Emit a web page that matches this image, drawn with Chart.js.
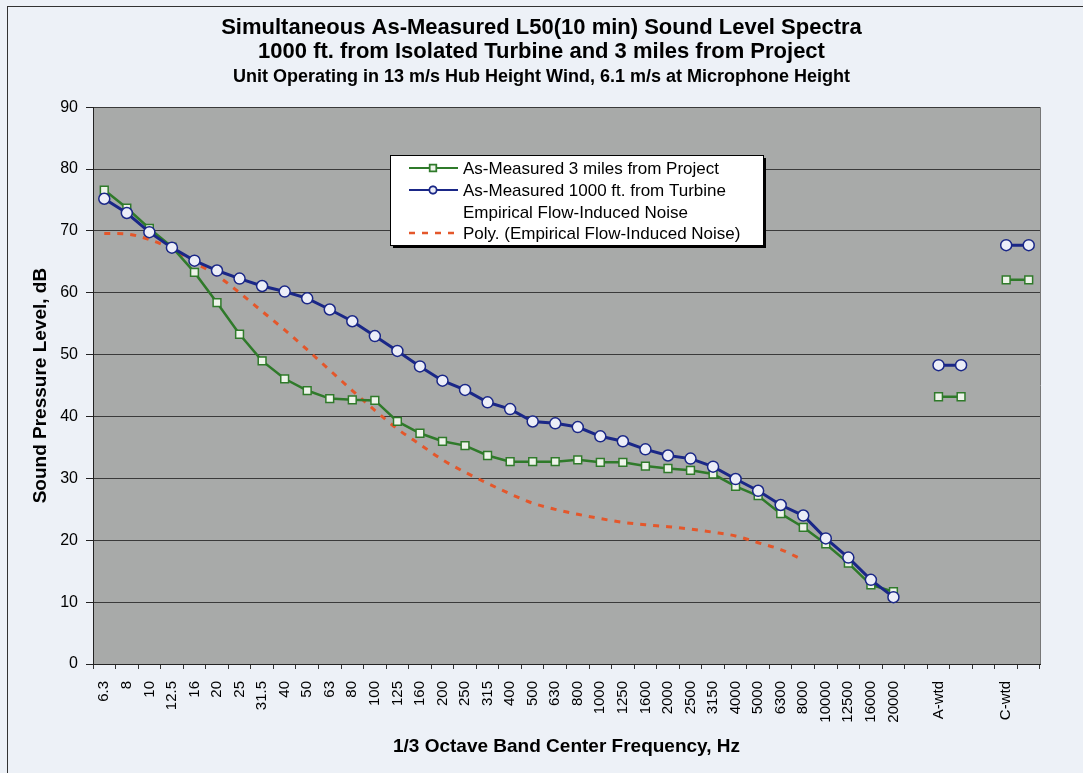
<!DOCTYPE html>
<html>
<head>
<meta charset="utf-8">
<title>L50 Sound Level Spectra</title>
<script src="https://cdn.jsdelivr.net/npm/chart.js@4.4.1/dist/chart.umd.min.js"></script>
<style>
  html, body { margin: 0; padding: 0; background: #edf1f7; }
  #wrap { position: relative; width: 1083px; height: 773px; }
</style>
</head>
<body>
<div id="wrap"><canvas id="spectra" width="1083" height="773"></canvas></div>
<script>
// 1/3 octave bands, then the weighted totals (blank slots keep the Excel spacing)
const bandLabels = ['6.3', '8', '10', '12.5', '16', '20', '25', '31.5', '40', '50', '63', '80',
    '100', '125', '160', '200', '250', '315', '400', '500', '630', '800', '1000', '1250',
    '1600', '2000', '2500', '3150', '4000', '5000', '6300', '8000', '10000', '12500', '16000', '20000',
    '', 'A-wtd', '', '', 'C-wtd', ''];

const yTicks = [0, 10, 20, 30, 40, 50, 60, 70, 80, 90];

// As-Measured 3 miles from Project
const project3mi = [76.6, 73.7, 70.4, 67.4, 63.3, 58.4, 53.3, 49.0, 46.1, 44.2, 42.9, 42.7,
    42.6, 39.2, 37.3, 36.0, 35.3, 33.7, 32.7, 32.7, 32.7, 33.0, 32.6, 32.6,
    32.0, 31.6, 31.3, 30.7, 28.7, 27.2, 24.3, 22.1, 19.4, 16.3, 12.8, 11.7];
const project3miWtd = [43.2, 62.1]; // A-wtd, C-wtd

// As-Measured 1000 ft. from Turbine
const turbine1000ft = [75.2, 72.9, 69.8, 67.3, 65.2, 63.6, 62.3, 61.1, 60.2, 59.1, 57.3, 55.4,
    53.0, 50.6, 48.1, 45.8, 44.3, 42.3, 41.2, 39.2, 38.9, 38.3, 36.8, 36.0,
    34.7, 33.7, 33.2, 31.9, 29.9, 28.0, 25.7, 24.0, 20.3, 17.2, 13.6, 10.8];
const turbine1000ftWtd = [48.3, 67.7];

// Poly. (Empirical Flow-Induced Noise), 6.3 Hz to 8000 Hz
const flowPoly = [69.6, 69.5, 68.6, 67.1, 64.9, 62.8, 60.0, 57.0, 54.0, 50.8, 47.5, 44.2,
    41.0, 38.0, 35.5, 33.0, 31.0, 29.2, 27.5, 26.0, 25.0, 24.2, 23.5, 22.9,
    22.5, 22.2, 21.8, 21.3, 20.7, 19.6, 18.5, 16.8];

// spread band values and weighted pairs over the category slots
function toSlots(bands, wtd) {
    const out = bandLabels.map(() => null);
    bands.forEach((v, i) => { out[i] = v; });
    if (wtd) {
        const a = bandLabels.indexOf('A-wtd');
        const c = bandLabels.indexOf('C-wtd');
        out[a] = out[a + 1] = wtd[0];
        out[c] = out[c + 1] = wtd[1];
    }
    return out;
}

Chart.defaults.font.family = "Arial, 'Liberation Sans', sans-serif";
Chart.defaults.color = '#000';

const GREEN = '#2f7a2a';
const BLUE = '#1a2787';
const RED = '#e4572b';

// page colour, outer frame and grey plot area
const backdrop = {
    id: 'backdrop',
    beforeDraw(chart) {
        const { ctx, chartArea: a } = chart;
        ctx.save();
        ctx.fillStyle = '#edf1f7';
        ctx.fillRect(0, 0, chart.width, chart.height);
        ctx.strokeStyle = '#333';
        ctx.lineWidth = 1;
        ctx.strokeRect(7.5, 6.5, chart.width + 10, chart.height + 10);
        ctx.fillStyle = '#a8aaa9';
        ctx.fillRect(a.left, a.top, a.right - a.left, a.bottom - a.top);
        ctx.restore();
    },
    afterDatasetsDraw(chart) {
        const { ctx, chartArea: a } = chart;
        ctx.save();
        ctx.strokeStyle = '#777';
        ctx.lineWidth = 1;
        ctx.beginPath();
        ctx.moveTo(a.right + 0.5, a.top);
        ctx.lineTo(a.right + 0.5, a.bottom);
        ctx.stroke();
        ctx.restore();
    }
};

// boxed legend floating inside the plot, like the Excel one
const boxLegend = {
    id: 'boxLegend',
    afterDraw(chart) {
        const ctx = chart.ctx;
        const x = 390, y = 155, w = 373, h = 90;
        ctx.save();
        ctx.fillStyle = '#000';
        ctx.fillRect(x + 3, y + 3, w, h);
        ctx.fillStyle = '#fff';
        ctx.fillRect(x, y, w, h);
        ctx.strokeStyle = '#000';
        ctx.lineWidth = 1;
        ctx.strokeRect(x + 0.5, y + 0.5, w, h);

        ctx.font = '17px Arial, "Liberation Sans", sans-serif';
        ctx.textBaseline = 'middle';
        const rowY = [168, 190, 212, 233];
        chart.data.datasets.forEach((ds, i) => {
            const ry = rowY[i];
            if (ds.showLine !== false) {
                ctx.strokeStyle = ds.borderColor;
                ctx.lineWidth = ds.legendWidth || ds.borderWidth;
                ctx.setLineDash(ds.borderDash || []);
                ctx.beginPath();
                ctx.moveTo(409, ry);
                ctx.lineTo(458, ry);
                ctx.stroke();
                ctx.setLineDash([]);
            }
            if (ds.pointRadius > 0) {
                Chart.helpers.drawPoint(ctx, {
                    pointStyle: ds.pointStyle,
                    radius: ds.pointStyle === 'rect' ? 4.5 : 3.5,
                    borderWidth: 1.5
                }, 433, ry);
                ctx.fillStyle = ds.pointBackgroundColor;
                ctx.strokeStyle = ds.pointBorderColor;
                ctx.lineWidth = 1.5;
                ctx.fill();
                ctx.stroke();
            }
            ctx.fillStyle = '#000';
            ctx.fillText(ds.label, 463, ry + 1);
        });
        ctx.restore();
    }
};

const chart = new Chart(document.getElementById('spectra'), {
    type: 'line',
    data: {
        labels: bandLabels,
        datasets: [{
            label: 'As-Measured 3 miles from Project',
            data: toSlots(project3mi, project3miWtd),
            borderColor: GREEN,
            borderWidth: 2.5,
            legendWidth: 2,
            pointStyle: 'rect',
            pointRadius: 5.5,
            pointBorderWidth: 1.5,
            pointBackgroundColor: '#eef4ea',
            pointBorderColor: GREEN,
            order: 2
        }, {
            label: 'As-Measured 1000 ft. from Turbine',
            data: toSlots(turbine1000ft, turbine1000ftWtd),
            borderColor: BLUE,
            borderWidth: 3,
            legendWidth: 2,
            pointStyle: 'circle',
            pointRadius: 5.5,
            pointBorderWidth: 1.5,
            pointBackgroundColor: '#eceef8',
            pointBorderColor: BLUE,
            order: 1
        }, {
            label: 'Empirical Flow-Induced Noise',
            data: [],
            showLine: false,
            pointRadius: 0,
            order: 4
        }, {
            label: 'Poly. (Empirical Flow-Induced Noise)',
            data: toSlots(flowPoly),
            borderColor: RED,
            borderWidth: 3,
            legendWidth: 2.5,
            borderDash: [6, 7],
            pointRadius: 0,
            cubicInterpolationMode: 'monotone',
            order: 3
        }]
    },
    options: {
        responsive: false,
        animation: false,
        spanGaps: false,
        layout: { padding: { top: 6, left: 0, right: 0, bottom: 0 } },
        plugins: {
            legend: { display: false },
            tooltip: { enabled: false },
            title: {
                display: true,
                text: ['Simultaneous As-Measured L50(10 min) Sound Level Spectra',
                       '1000 ft. from Isolated Turbine and 3 miles from Project'],
                font: { size: 22, weight: 'bold', lineHeight: 1.1 },
                color: '#000',
                padding: { top: 10, bottom: 0 }
            },
            subtitle: {
                display: true,
                text: 'Unit Operating in 13 m/s Hub Height Wind, 6.1 m/s at Microphone Height',
                font: { size: 18, weight: 'bold', lineHeight: 1.1 },
                color: '#000',
                padding: { top: 3, bottom: 20 }
            }
        },
        scales: {
            x: {
                offset: true,
                grid: { offset: true, drawOnChartArea: false, tickLength: 5, color: '#333' },
                border: { color: '#222' },
                ticks: { autoSkip: false, minRotation: 90, maxRotation: 90, font: { size: 15 }, padding: 12 },
                title: {
                    display: true,
                    text: '1/3 Octave Band Center Frequency, Hz',
                    font: { size: 19, weight: 'bold', lineHeight: 1.2 },
                    padding: { top: 0, bottom: 15 }
                },
                afterFit: s => { s.height = 109; }
            },
            y: {
                min: yTicks[0],
                max: yTicks[yTicks.length - 1],
                afterBuildTicks: s => { s.ticks = yTicks.map(v => ({ value: v })); },
                grid: { color: '#3a3a3a', tickColor: '#222', tickLength: 7 },
                border: { color: '#222' },
                ticks: { font: { size: 16 }, padding: 8 },
                title: {
                    display: true,
                    text: 'Sound Pressure Level, dB',
                    font: { size: 19, weight: 'bold', lineHeight: 1.2 },
                    padding: { top: 29, bottom: 0 }
                },
                afterFit: s => { s.width = 93; }
            },
            // empty right-hand strip so the titles centre on the whole page
            yRight: {
                position: 'right',
                display: true,
                grid: { display: false },
                border: { display: false },
                ticks: { display: false },
                afterFit: s => { s.width = 43; }
            }
        }
    },
    plugins: [backdrop, boxLegend]
});
</script>
</body>
</html>
